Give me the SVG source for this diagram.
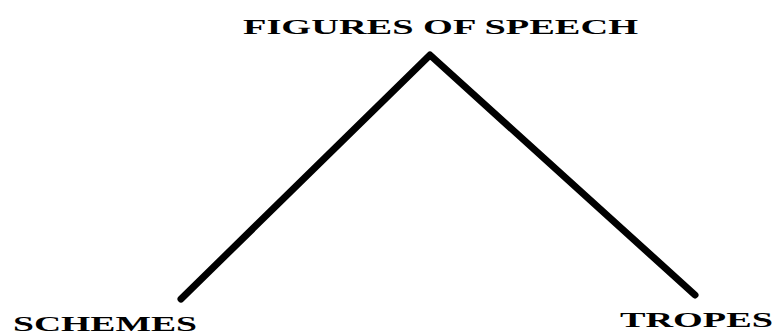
<svg xmlns="http://www.w3.org/2000/svg" width="775" height="336" viewBox="0 0 775 336">
<style>
.t{font-family:"Liberation Serif","Times New Roman",serif;font-weight:bold;font-size:21px;fill:#000}
.c{fill:none;stroke:#000;stroke-width:7;stroke-linecap:round;stroke-linejoin:round}
</style>
<rect width="775" height="336" fill="#fff"/>
<g id="root"><text class="t" x="243" y="34" textLength="395" lengthAdjust="spacingAndGlyphs">FIGURES OF SPEECH</text></g>
<g id="schemes"><text class="t" x="13" y="331" textLength="184" lengthAdjust="spacingAndGlyphs">SCHEMES</text></g>
<g id="tropes"><text class="t" x="620" y="327" textLength="153" lengthAdjust="spacingAndGlyphs">TROPES</text></g>
<g id="connectors">
<polyline class="c" points="181,299 430,55 695,295"/>
</g>
</svg>
